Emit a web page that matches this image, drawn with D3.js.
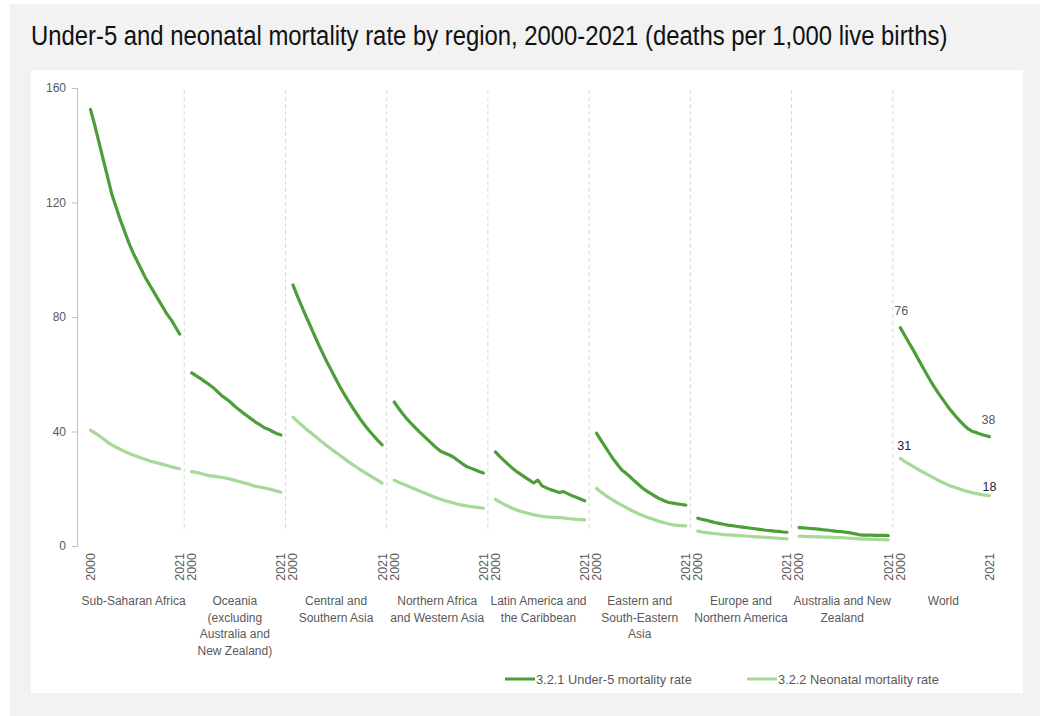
<!DOCTYPE html>
<html>
<head>
<meta charset="utf-8">
<script src="https://cdn.jsdelivr.net/npm/d3@7"></script>
<style>
  html, body { margin: 0; padding: 0; background: #ffffff; }
  svg { display: block; }
  text { font-family: "Liberation Sans", Arial, sans-serif; }
</style>
</head>
<body>
<svg id="chart" width="1049" height="716"></svg>
<script>
// ---------------- DATA ----------------
const titleText = "Under-5 and neonatal mortality rate by region, 2000-2021 (deaths per 1,000 live births)";

const years = [2000, 2001, 2002, 2003, 2004, 2005, 2006, 2007, 2008, 2009, 2010,
               2011, 2012, 2013, 2014, 2015, 2016, 2017, 2018, 2019, 2020, 2021];

const regions = [
  "Sub-Saharan Africa",
  "Oceania (excluding Australia and New Zealand)",
  "Central and Southern Asia",
  "Northern Africa and Western Asia",
  "Latin America and the Caribbean",
  "Eastern and South-Eastern Asia",
  "Europe and Northern America",
  "Australia and New Zealand",
  "World"
];

const regionLabelLines = [
  ["Sub-Saharan Africa"],
  ["Oceania", "(excluding", "Australia and", "New Zealand)"],
  ["Central and", "Southern Asia"],
  ["Northern Africa", "and Western Asia"],
  ["Latin America and", "the Caribbean"],
  ["Eastern and", "South-Eastern", "Asia"],
  ["Europe and", "Northern America"],
  ["Australia and New", "Zealand"],
  ["World"]
];

// 3.2.1 Under-5 mortality rate (deaths per 1,000 live births)
const u5SubSaharan   = [152.5, 147, 141, 135, 129, 123, 118.5, 114, 110, 106, 102.5, 99.5, 96.5, 93.5, 91, 88.5, 86, 83.5, 81, 79, 76.5, 74];
const u5Oceania      = [60.5, 59.5, 58.6, 57.5, 56.5, 55.4, 54.0, 52.6, 51.5, 50.4, 49.0, 47.8, 46.6, 45.5, 44.4, 43.3, 42.4, 41.4, 40.8, 40.0, 39.3, 38.8];
const u5CentralSouth = [91.2, 87.5, 84, 80.5, 77.2, 73.8, 70.5, 67.4, 64.3, 61.5, 58.6, 55.8, 53.2, 50.8, 48.4, 46.2, 44, 42, 40.2, 38.5, 36.8, 35.3];
const u5NorthAfrWest = [50.3, 48.2, 46.2, 44.4, 42.8, 41.3, 39.8, 38.4, 37.0, 35.6, 34.2, 33.0, 32.4, 31.8, 31.0, 29.9, 28.8, 27.8, 27.2, 26.6, 26.0, 25.5];
const u5LatAmCarib   = [32.9, 31.3, 29.9, 28.5, 27.2, 26.0, 25.0, 24.0, 23.0, 22.0, 23.0, 21.0, 20.3, 19.7, 19.2, 18.7, 19.0, 18.3, 17.6, 17.0, 16.4, 15.8];
const u5EastSEAsia   = [39.4, 37.0, 34.7, 32.4, 30.2, 28.3, 26.5, 25.3, 24.0, 22.6, 21.3, 20.0, 19.0, 18.1, 17.2, 16.4, 15.7, 15.2, 15.0, 14.7, 14.5, 14.3];
const u5EuropeNAm    = [9.7, 9.3, 9.0, 8.6, 8.2, 7.9, 7.6, 7.3, 7.1, 6.9, 6.7, 6.5, 6.3, 6.1, 5.9, 5.7, 5.5, 5.4, 5.2, 5.1, 4.9, 4.8];
const u5AusNZ        = [6.4, 6.3, 6.2, 6.1, 6.0, 5.8, 5.6, 5.5, 5.3, 5.1, 5.0, 4.8, 4.6, 4.3, 4.0, 3.8, 3.8, 3.8, 3.7, 3.7, 3.7, 3.6];
const u5World        = [76.3, 73.7, 71.1, 68.6, 65.9, 63.2, 60.6, 58.0, 55.6, 53.3, 51.2, 49.1, 47.2, 45.4, 43.7, 42.2, 40.9, 40.0, 39.6, 39.0, 38.6, 38.2];

// 3.2.2 Neonatal mortality rate (deaths per 1,000 live births)
const nmrSubSaharan   = [40.5, 39.5, 38.5, 37.5, 36.3, 35.3, 34.5, 33.8, 33.0, 32.4, 31.8, 31.3, 30.7, 30.2, 29.7, 29.3, 28.9, 28.5, 28.1, 27.7, 27.3, 27.0];
const nmrOceania      = [26.0, 25.7, 25.4, 25.0, 24.6, 24.4, 24.2, 24.0, 23.7, 23.4, 23.0, 22.6, 22.2, 21.8, 21.3, 20.9, 20.6, 20.3, 20.0, 19.6, 19.2, 18.8];
const nmrCentralSouth = [45, 43.6, 42.3, 41, 39.8, 38.6, 37.4, 36.2, 35, 33.9, 32.8, 31.7, 30.6, 29.5, 28.5, 27.5, 26.5, 25.6, 24.7, 23.8, 22.9, 22.0];
const nmrNorthAfrWest = [23.0, 22.3, 21.7, 21.1, 20.4, 19.8, 19.2, 18.6, 18.0, 17.4, 16.8, 16.3, 15.8, 15.4, 15.0, 14.6, 14.3, 14.0, 13.8, 13.6, 13.4, 13.2];
const nmrLatAmCarib   = [16.3, 15.4, 14.6, 13.9, 13.2, 12.6, 12.1, 11.7, 11.3, 10.9, 10.6, 10.4, 10.2, 10.1, 10.0, 9.9, 9.8, 9.6, 9.5, 9.3, 9.2, 9.1];
const nmrEastSEAsia   = [20.1, 18.9, 17.8, 16.8, 15.9, 15.0, 14.2, 13.4, 12.6, 11.9, 11.2, 10.6, 10.0, 9.5, 9.0, 8.5, 8.1, 7.7, 7.4, 7.2, 7.1, 7.0];
const nmrEuropeNAm    = [5.2, 4.9, 4.7, 4.5, 4.3, 4.2, 4.0, 3.9, 3.8, 3.7, 3.6, 3.5, 3.4, 3.3, 3.2, 3.1, 3.0, 2.9, 2.8, 2.7, 2.6, 2.5];
const nmrAusNZ        = [3.4, 3.4, 3.3, 3.3, 3.2, 3.2, 3.1, 3.1, 3.0, 2.9, 2.9, 2.8, 2.7, 2.6, 2.5, 2.4, 2.4, 2.3, 2.3, 2.2, 2.2, 2.1];
const nmrWorld        = [30.6, 29.6, 28.7, 27.8, 26.9, 26.1, 25.3, 24.5, 23.7, 22.9, 22.2, 21.5, 20.9, 20.4, 19.9, 19.4, 19.0, 18.6, 18.3, 18.0, 17.8, 17.6];

const u5Series  = [u5SubSaharan, u5Oceania, u5CentralSouth, u5NorthAfrWest, u5LatAmCarib, u5EastSEAsia, u5EuropeNAm, u5AusNZ, u5World];
const nmrSeries = [nmrSubSaharan, nmrOceania, nmrCentralSouth, nmrNorthAfrWest, nmrLatAmCarib, nmrEastSEAsia, nmrEuropeNAm, nmrAusNZ, nmrWorld];

const yTicks = [0, 40, 80, 120, 160];
const yearTickLabels = [2000, 2021];
const legendLabels = ["3.2.1 Under-5 mortality rate", "3.2.2 Neonatal mortality rate"];
const labeledRegion = "World";

// ---------------- STYLE ----------------
const darkGreen = "#4c9f38";
const lightGreen = "#a6d898";
const axisText = "#595959";

// ---------------- DRAW ----------------
const svg = d3.select("#chart");

svg.append("rect").attr("x", 10).attr("y", 4).attr("width", 1030).attr("height", 712).attr("fill", "#f2f2f2");
svg.append("rect").attr("x", 31).attr("y", 70).attr("width", 992).attr("height", 623).attr("fill", "#ffffff");

// title: drawn at a natural size, then horizontally condensed to the reference width
const titleG = svg.append("g").attr("transform", "translate(31,45)");
const title = titleG.append("text")
  .attr("x", 0).attr("y", 0)
  .attr("font-family", "Roboto, 'Liberation Sans', sans-serif")
  .attr("font-size", 28)
  .attr("fill", "#111111")
  .text(titleText);
const natW = title.node().getComputedTextLength();
const targetW = 917;
titleG.attr("transform", `translate(31,45) scale(${targetW / natW},1)`);

const y = d3.scaleLinear().domain([0, 160]).range([546, 88]);
const band = d3.scaleBand().domain(regions).range([83, 994]).paddingInner(0).paddingOuter(0);

function xScaleFor(region) {
  const b = band(region);
  return d3.scalePoint().domain(years).range([b + 7.5, b + band.bandwidth() - 4.5]);
}

// y axis
const yAxis = d3.axisLeft(y).tickValues(yTicks).tickSize(5).tickPadding(6);
const yg = svg.append("g").attr("transform", "translate(77,0)").call(yAxis);
yg.select(".domain").attr("stroke", "#bfbfbf").attr("stroke-width", 1);
yg.selectAll(".tick line").attr("stroke", "#bfbfbf");
yg.selectAll(".tick text").attr("fill", axisText).attr("font-size", 12)
  .attr("font-family", "'Liberation Sans', Arial, sans-serif");

// separators
regions.slice(1).forEach(r => {
  svg.append("line")
    .attr("x1", band(r)).attr("x2", band(r))
    .attr("y1", 90).attr("y2", 532)
    .attr("stroke", "#d9d9d9").attr("stroke-width", 1)
    .attr("stroke-dasharray", "4,3");
});

const line = (xs) => d3.line().x((d, i) => xs(years[i])).y(d => y(d)).curve(d3.curveLinear);

regions.forEach((r, gi) => {
  const xs = xScaleFor(r);
  const g = svg.append("g");
  g.append("path").datum(nmrSeries[gi])
    .attr("d", line(xs))
    .attr("fill", "none").attr("stroke", lightGreen).attr("stroke-width", 3.2)
    .attr("stroke-linejoin", "round").attr("stroke-linecap", "round");
  g.append("path").datum(u5Series[gi])
    .attr("d", line(xs))
    .attr("fill", "none").attr("stroke", darkGreen).attr("stroke-width", 3.2)
    .attr("stroke-linejoin", "round").attr("stroke-linecap", "round");

  // year tick labels (rotated)
  yearTickLabels.forEach(yr => {
    svg.append("text")
      .attr("transform", `translate(${xs(yr)},553) rotate(-90)`)
      .attr("text-anchor", "end")
      .attr("dy", "0.35em")
      .attr("font-size", 12.5)
      .attr("fill", axisText)
      .text(yr);
  });

  // group labels
  const cx = band(r) + band.bandwidth() / 2;
  const t = svg.append("text")
    .attr("text-anchor", "middle")
    .attr("font-size", 12)
    .attr("fill", axisText);
  regionLabelLines[gi].forEach((ln, li) => {
    t.append("tspan").attr("x", cx).attr("y", 605 + li * 16.5).text(ln);
  });

  // data labels for World
  if (r === labeledRegion) {
    const fmt = d3.format(".0f");
    const u = u5Series[gi], n = nmrSeries[gi];
    const labels = [
      { v: u[0], yr: years[0], dy: -13, dx: 1, c: axisText },
      { v: u[u.length - 1], yr: years[years.length - 1], dy: -13, dx: -1, c: axisText },
      { v: n[0], yr: years[0], dy: -8, dx: 4, c: "#262626" },
      { v: n[n.length - 1], yr: years[years.length - 1], dy: -5, dx: 0, c: "#262626" }
    ];
    labels.forEach(l => {
      svg.append("text")
        .attr("x", xs(l.yr) + l.dx)
        .attr("y", y(l.v) + l.dy)
        .attr("text-anchor", "middle")
        .attr("font-size", 12.5)
        .attr("fill", l.c)
        .text(fmt(l.v));
    });
  }
});

// legend
const legend = [
  { label: legendLabels[0], color: darkGreen, x: 505 },
  { label: legendLabels[1], color: lightGreen, x: 747 }
];
legend.forEach(l => {
  svg.append("line")
    .attr("x1", l.x).attr("x2", l.x + 30)
    .attr("y1", 679).attr("y2", 679)
    .attr("stroke", l.color).attr("stroke-width", 3);
  svg.append("text")
    .attr("x", l.x + 31).attr("y", 683.5)
    .attr("font-size", 12.8)
    .attr("fill", axisText)
    .text(l.label);
});
</script>
</body>
</html>
